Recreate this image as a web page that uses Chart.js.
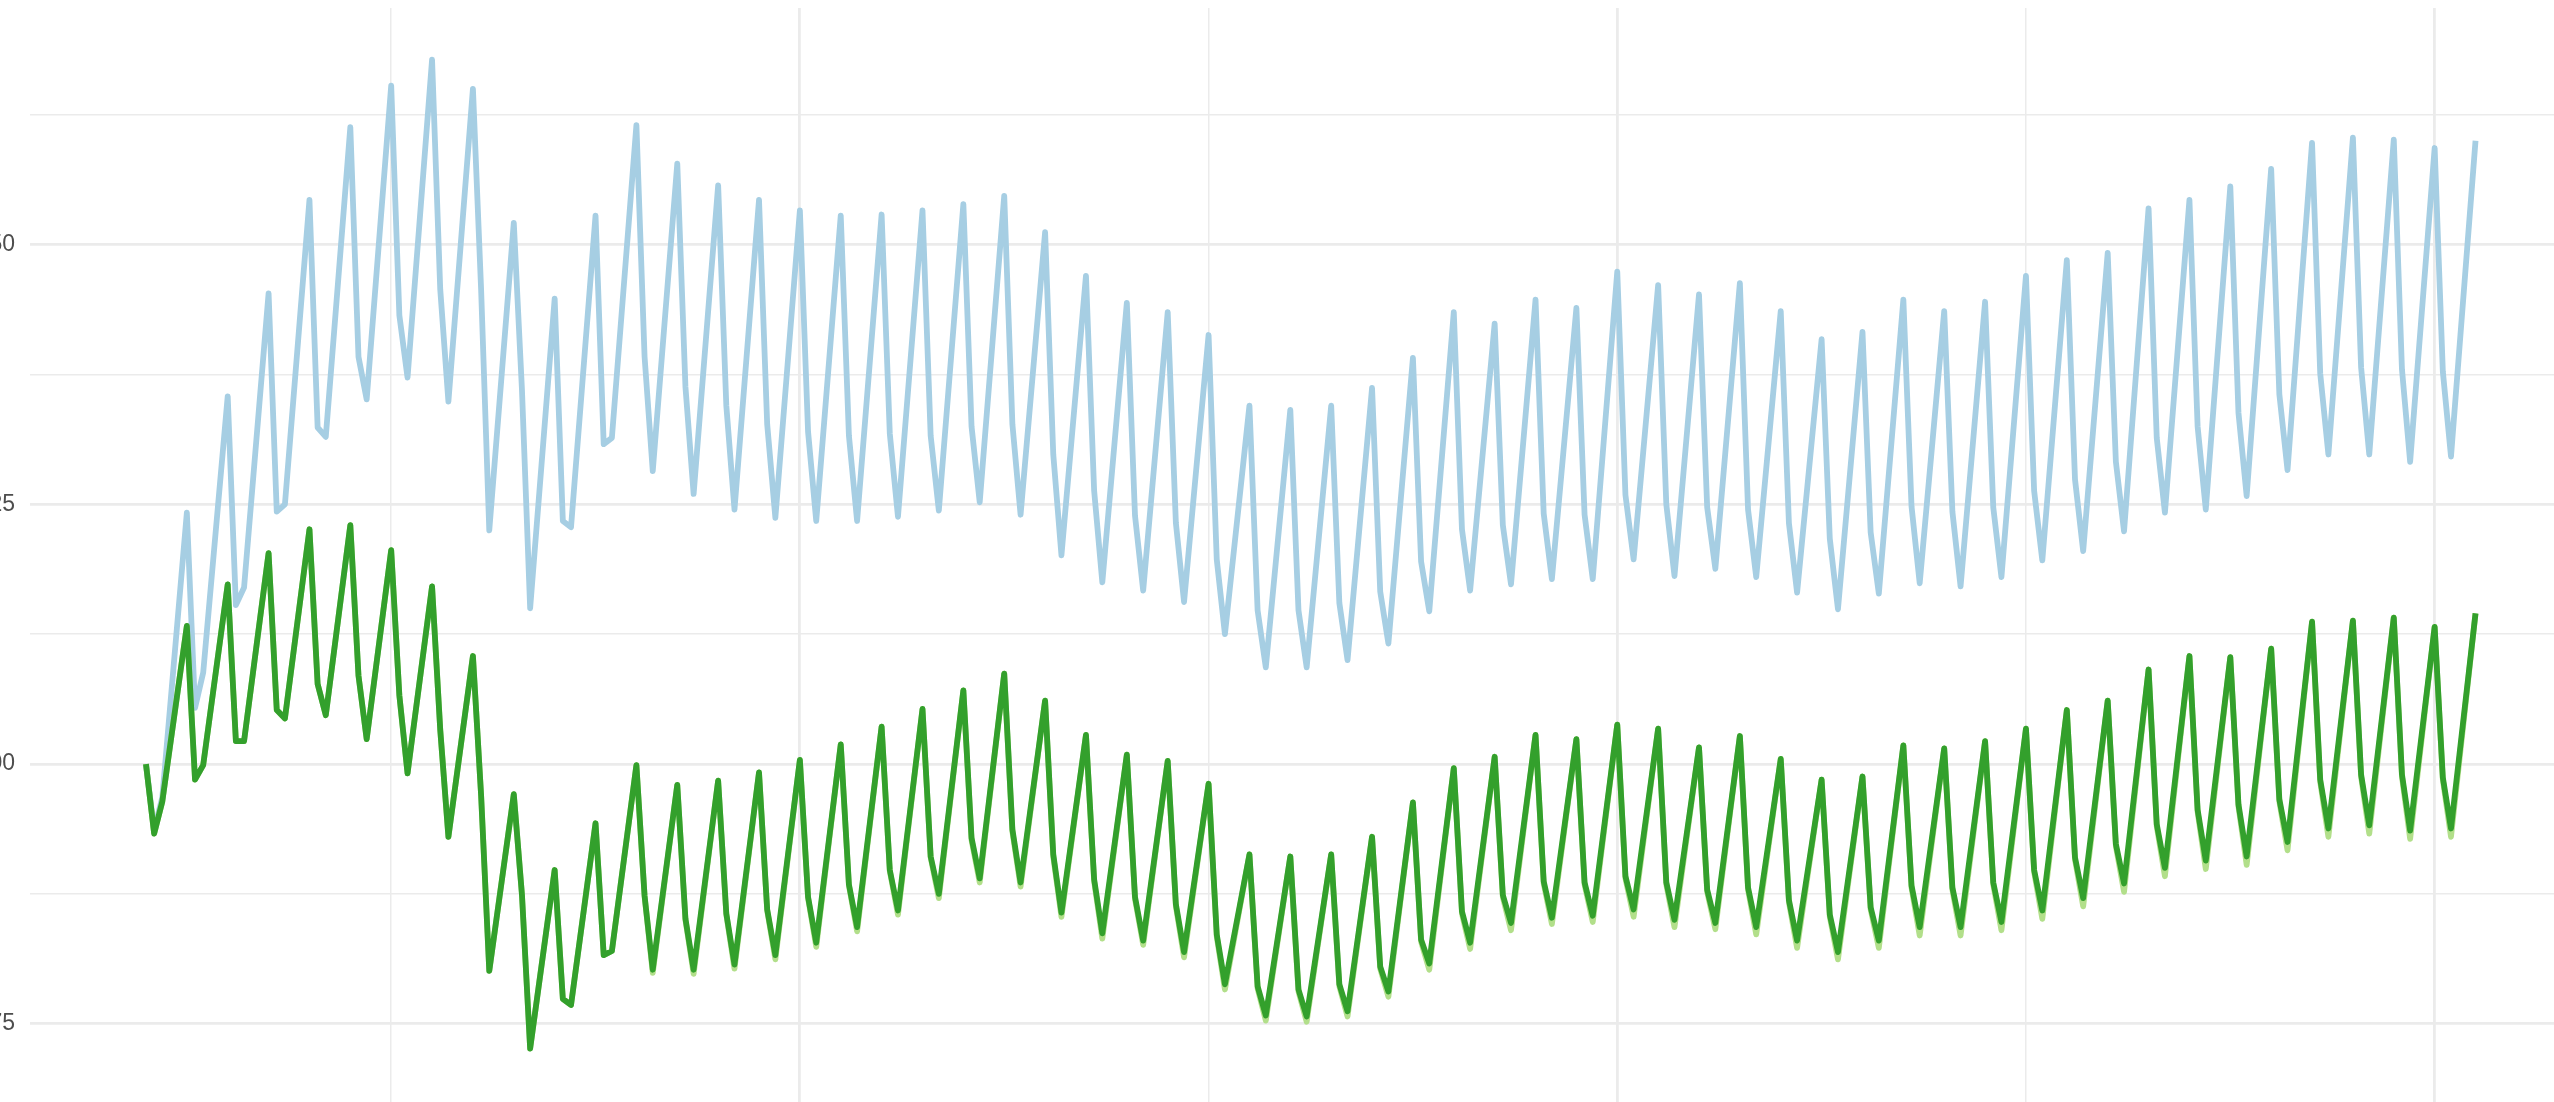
<!DOCTYPE html>
<html>
<head>
<meta charset="utf-8">
<title>Index series</title>
<script src="https://cdn.jsdelivr.net/npm/chart.js"></script>
<style>
    html, body { margin: 0; padding: 0; background: #ffffff; overflow: hidden; }
    body { width: 2554px; height: 1102px; position: relative; }
    #lineChart { position: absolute; left: -100px; top: 0; }
</style>
</head>
<body>
<canvas id="lineChart" width="2714" height="1120"></canvas>
<script>
// x positions (day number) shared by every series
const day = [
    20, 21, 22, 25, 26, 27, 30, 31, 32, 35, 36, 37, 40, 41, 42, 45, 46, 47,
    50, 51, 52, 55, 56, 57, 60, 61, 62, 65, 66, 67, 70, 71, 72, 75, 76, 77,
    80, 81, 82, 85, 86, 87, 90, 91, 92, 95, 96, 97, 100, 101, 102, 105, 106, 107,
    110, 111, 112, 115, 116, 117, 120, 121, 122, 125, 126, 127, 130, 131, 132, 135, 136, 137,
    140, 141, 142, 145, 146, 147, 150, 151, 152, 155, 156, 157, 160, 161, 162, 165, 166, 167,
    170, 171, 172, 175, 176, 177, 180, 181, 182, 185, 186, 187, 190, 191, 192, 195, 196, 197,
    200, 201, 202, 205, 206, 207, 210, 211, 212, 215, 216, 217, 220, 221, 222, 225, 226, 227,
    230, 231, 232, 235, 236, 237, 240, 241, 242, 245, 246, 247, 250, 251, 252, 255, 256, 257,
    260, 261, 262, 265, 266, 267, 270, 271, 272, 275, 276, 277, 280, 281, 282, 285, 286, 287,
    290, 291, 292, 295, 296, 297, 300, 301, 302, 305
];

// light blue series
const blueSeries = [
    100, 93.6, 96.8, 124.2, 105.4, 108.8, 135.4, 115.3, 117.0, 145.3, 124.3, 125.0,
    154.3, 132.4, 131.5, 161.3, 139.2, 135.1, 165.3, 143.2, 137.2, 167.8, 145.7, 134.9,
    165.0, 145.7, 122.5, 152.1, 136.0, 115.0, 144.8, 123.4, 122.8, 152.8, 130.8, 131.4,
    161.5, 139.2, 128.2, 157.8, 136.3, 126.0, 155.7, 134.5, 124.5, 154.3, 132.7, 123.7,
    153.3, 132.0, 123.4, 152.8, 131.6, 123.4, 152.9, 131.8, 123.8, 153.3, 131.6, 124.4,
    153.9, 132.5, 125.2, 154.7, 132.7, 124.0, 151.2, 129.8, 120.1, 147.0, 126.3, 117.5,
    144.4, 123.9, 116.7, 143.5, 123.2, 115.6, 141.3, 119.7, 112.5, 134.5, 114.8, 109.3,
    134.1, 114.8, 109.3, 134.5, 115.5, 110.0, 136.2, 116.6, 111.6, 139.1, 119.5, 114.7,
    143.5, 122.6, 116.7, 142.4, 123.0, 117.3, 144.7, 124.1, 117.8, 143.9, 124.0, 117.8,
    147.4, 125.9, 119.7, 146.1, 125.0, 118.1, 145.2, 124.7, 118.8, 146.3, 124.5, 118.0,
    143.6, 123.2, 116.5, 140.9, 121.7, 114.9, 141.6, 122.3, 116.4, 144.7, 124.8, 117.4,
    143.6, 124.3, 117.1, 144.5, 124.7, 118.0, 147.0, 126.3, 119.6, 148.5, 127.4, 120.5,
    149.2, 129.1, 122.4, 153.5, 131.4, 124.2, 154.3, 132.5, 124.5, 155.6, 133.8, 125.8,
    157.3, 135.6, 128.3, 159.8, 137.6, 129.8, 160.3, 138.2, 129.8, 160.1, 138.0, 129.1,
    159.3, 137.8, 129.6, 160.0
];

// light green series (mostly hidden under the dark green one)
const lightGreenSeries = [
    100, 93.3, 96.4, 113.3, 98.5, 99.9, 117.3, 102.2, 102.2, 120.3, 105.2, 104.4,
    122.6, 107.7, 104.7, 123.0, 108.5, 102.4, 120.6, 106.6, 99.1, 117.1, 103.3, 93.0,
    110.4, 97.0, 80.1, 97.1, 87.4, 72.6, 89.8, 77.4, 76.8, 94.3, 81.6, 82.0,
    99.9, 87.3, 79.9, 98.0, 85.0, 79.8, 98.4, 85.5, 80.3, 99.2, 85.9, 81.2,
    100.4, 87.1, 82.4, 101.9, 88.3, 83.9, 103.6, 89.7, 85.5, 105.3, 91.0, 87.1,
    107.1, 92.7, 88.6, 108.7, 93.5, 88.2, 106.1, 91.1, 85.3, 102.8, 88.7, 83.2,
    100.9, 87.0, 82.6, 100.3, 86.3, 81.4, 98.1, 83.4, 78.3, 91.3, 78.4, 75.3,
    91.1, 78.1, 75.2, 91.3, 78.6, 75.7, 93.0, 80.3, 77.6, 96.3, 82.9, 80.2,
    99.6, 85.6, 82.2, 100.7, 87.2, 84.0, 102.8, 88.5, 84.6, 102.4, 88.4, 84.8,
    103.8, 89.0, 85.3, 103.4, 88.4, 84.3, 101.6, 87.7, 84.1, 102.7, 87.9, 83.6,
    100.5, 86.7, 82.3, 98.5, 85.3, 81.2, 98.8, 86.0, 82.3, 101.8, 88.1, 83.5,
    101.5, 87.9, 83.5, 102.2, 88.4, 84.0, 103.4, 89.6, 85.1, 105.2, 90.8, 86.3,
    106.1, 92.1, 87.7, 109.1, 94.0, 89.2, 110.4, 95.4, 89.9, 110.3, 95.9, 90.3,
    111.1, 96.4, 91.7, 113.7, 98.3, 93.0, 113.8, 98.8, 93.3, 114.1, 98.8, 92.8,
    113.2, 98.5, 93.0, 114.5
];

// dark green series
const greenSeries = [
    100, 93.3, 96.4, 113.3, 98.5, 99.9, 117.3, 102.2, 102.2, 120.3, 105.2, 104.4,
    122.6, 107.7, 104.7, 123.0, 108.5, 102.4, 120.6, 106.6, 99.1, 117.1, 103.3, 93.0,
    110.4, 97.0, 80.1, 97.1, 87.4, 72.6, 89.8, 77.4, 76.8, 94.3, 81.6, 82.0,
    99.9, 87.3, 80.2, 98.0, 85.1, 80.2, 98.4, 85.6, 80.7, 99.2, 86.0, 81.6,
    100.4, 87.2, 82.8, 101.9, 88.4, 84.3, 103.6, 89.8, 85.9, 105.3, 91.1, 87.5,
    107.1, 92.9, 89.0, 108.7, 93.7, 88.6, 106.1, 91.3, 85.7, 102.8, 88.9, 83.7,
    100.9, 87.2, 83.0, 100.3, 86.5, 81.9, 98.1, 83.6, 78.8, 91.3, 78.6, 75.8,
    91.1, 78.3, 75.7, 91.3, 78.8, 76.2, 93.0, 80.5, 78.1, 96.3, 83.1, 80.8,
    99.6, 85.8, 82.8, 100.7, 87.4, 84.7, 102.8, 88.7, 85.2, 102.4, 88.6, 85.4,
    103.8, 89.2, 86.0, 103.4, 88.6, 85.0, 101.6, 87.9, 84.7, 102.7, 88.1, 84.3,
    100.5, 86.9, 83.0, 98.5, 85.5, 81.9, 98.8, 86.2, 83.0, 101.8, 88.3, 84.3,
    101.5, 88.1, 84.3, 102.2, 88.6, 84.8, 103.4, 89.8, 85.9, 105.2, 91.0, 87.1,
    106.1, 92.3, 88.5, 109.1, 94.2, 90.0, 110.4, 95.6, 90.7, 110.3, 96.1, 91.1,
    111.1, 96.6, 92.5, 113.7, 98.5, 93.8, 113.8, 99.0, 94.1, 114.1, 99.0, 93.6,
    113.2, 98.7, 93.8, 114.5
];

// axis breaks: major and minor grid lines
const xBreaks = [50, 100, 150, 200, 250, 300];
const yBreaks = [75, 87.5, 100, 112.5, 125, 137.5, 150, 162.5];

document.addEventListener('DOMContentLoaded', function() {
    initLineChart();
});

// pair the day numbers with one series
function toPoints(values) {
    return day.map((d, k) => ({ x: d, y: values[k] }));
}

function initLineChart() {
    const canvas = document.getElementById('lineChart');
    if (!canvas) return;

    const ctx = canvas.getContext('2d');
    const gridColor = '#EBEBEB';

    // common line style
    const lineStyle = {
        borderWidth: 5.8,
        pointRadius: 0,
        tension: 0,
        fill: false,
        borderJoinStyle: 'round',
        borderCapStyle: 'butt'
    };

    // first dataset is drawn on top
    const data = {
        datasets: [
            Object.assign({ label: 'dark green', data: toPoints(greenSeries), borderColor: '#33A02C' }, lineStyle),
            Object.assign({ label: 'light green', data: toPoints(lightGreenSeries), borderColor: '#B2DF8A' }, lineStyle),
            Object.assign({ label: 'light blue', data: toPoints(blueSeries), borderColor: '#A6CEE3' }, lineStyle)
        ]
    };

    const options = {
        responsive: false,
        animation: false,
        layout: {
            padding: { left: 0, right: 22, top: 8, bottom: 17.4 }
        },
        plugins: {
            legend: { display: false },
            tooltip: { enabled: false }
        },
        scales: {
            x: {
                type: 'linear',
                min: 5.75,
                max: 319.25,
                afterBuildTicks: scale => { scale.ticks = xBreaks.map(v => ({ value: v })); },
                afterFit: scale => {
                    scale.height = 0;
                    scale.paddingLeft = 0;
                    scale.paddingRight = 0;
                },
                ticks: { display: false },
                border: { display: false },
                grid: {
                    color: gridColor,
                    drawTicks: false,
                    lineWidth: c => (c.tick && c.tick.value % 100 === 0) ? 2.8 : 1.5
                }
            },
            y: {
                type: 'linear',
                min: 67.41,
                max: 172.78,
                afterBuildTicks: scale => { scale.ticks = yBreaks.map(v => ({ value: v })); },
                afterFit: scale => {
                    scale.width = 129.5;
                    scale.paddingTop = 0;
                    scale.paddingBottom = 0;
                },
                border: { display: false },
                grid: {
                    color: gridColor,
                    drawTicks: false,
                    lineWidth: c => (c.tick && c.tick.value % 25 === 0) ? 2.8 : 1.5
                },
                ticks: {
                    padding: 14.5,
                    color: '#4D4D4D',
                    font: { family: 'Liberation Sans', size: 23 },
                    callback: v => (v % 25 === 0) ? String(v) : ''
                }
            }
        }
    };

    new Chart(ctx, {
        type: 'line',
        data: data,
        options: options
    });
}
</script>
</body>
</html>
